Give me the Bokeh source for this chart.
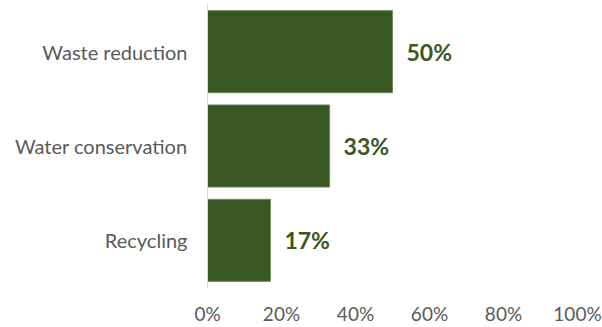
from bokeh.plotting import figure
from bokeh.models import ColumnDataSource, FactorRange, Range1d, NumeralTickFormatter, FixedTicker
from bokeh.core.properties import value
from bokeh.embed import file_html
from bokeh.resources import INLINE

categories = ["Waste reduction", "Water conservation", "Recycling"]
shares = [0.50, 0.33, 0.17]
share_labels = ["50%", "33%", "17%"]
x_ticks = [0, 0.2, 0.4, 0.6, 0.8, 1.0]

source = ColumnDataSource(dict(cat=categories, val=shares, lab=share_labels))

p = figure(width=602, height=327, output_backend="svg", toolbar_location=None,
           y_range=FactorRange(*reversed(categories), range_padding=0),
           x_range=Range1d(0, 1.0))
p.min_border_left = 207
p.min_border_right = 25
p.min_border_top = 4
p.min_border_bottom = 39
p.outline_line_color = None
p.background_fill_color = "white"
p.border_fill_color = "white"

p.hbar(y="cat", right="val", left=0, height=0.87, source=source,
       fill_color="#385723", line_color="#6f8a5e", line_width=1)

p.text(x="val", y="cat", text="lab", source=source, x_offset=14,
       text_font=value("Lato"), text_font_style="bold", text_font_size="23px",
       text_color="#385723", text_baseline="middle", text_align="left")

p.xgrid.visible = False
p.ygrid.visible = False

p.xaxis.ticker = FixedTicker(ticks=x_ticks)
p.xaxis.formatter = NumeralTickFormatter(format="0%")
p.xaxis.axis_line_color = None
p.xaxis.major_tick_line_color = None
p.xaxis.minor_tick_line_color = None
p.xaxis.major_tick_out = 0
p.xaxis.major_tick_in = 0
p.xaxis.major_label_text_font = "Lato"
p.xaxis.major_label_text_font_size = "19px"
p.xaxis.major_label_text_color = "#595959"
p.xaxis.major_label_standoff = 14

p.yaxis.axis_line_color = "#d9d9d9"
p.yaxis.axis_line_width = 1
p.yaxis.major_tick_line_color = None
p.yaxis.minor_tick_line_color = None
p.yaxis.major_tick_out = 0
p.yaxis.major_tick_in = 0
p.yaxis.major_label_text_font = "Lato"
p.yaxis.major_label_text_font_size = "20px"
p.yaxis.major_label_text_color = "#595959"
p.yaxis.major_label_standoff = 20

open("out.html", "w").write(file_html(p, INLINE))
